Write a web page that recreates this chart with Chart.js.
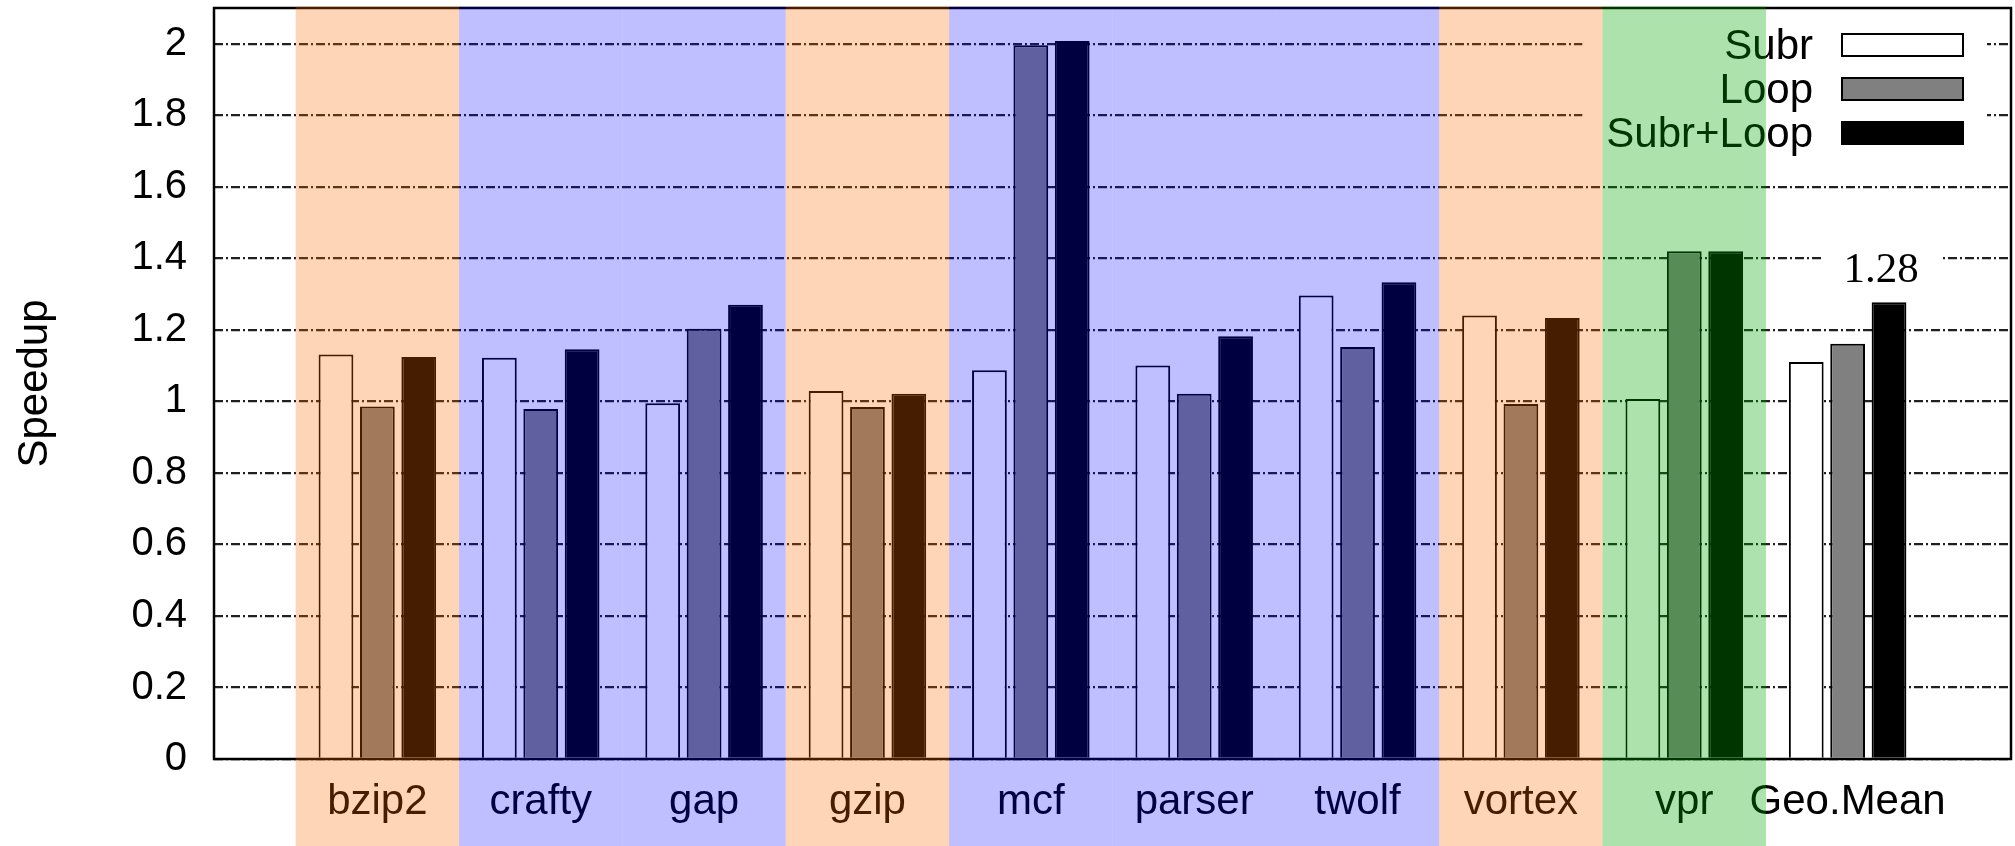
<!DOCTYPE html>
<html>
<head>
<meta charset="utf-8">
<script src="https://cdn.jsdelivr.net/npm/chart.js@4.4.1/dist/chart.umd.min.js"></script>
<style>
  html, body { margin: 0; padding: 0; background: #fff; }
  #wrap { width: 2015px; height: 846px; position: relative; }
</style>
</head>
<body>
<div id="wrap"><canvas id="speedupChart"></canvas></div>
<script>
// benchmarks and the measured speedups
const benchmarks = ['bzip2', 'crafty', 'gap', 'gzip', 'mcf', 'parser', 'twolf', 'vortex', 'vpr', 'Geo.Mean'];
const subr     = [1.131, 1.122, 0.995, 1.029, 1.087, 1.100, 1.296, 1.240, 1.007, 1.110];
const loop     = [0.986, 0.979, 1.203, 0.984, 1.996, 1.021, 1.152, 0.993, 1.420, 1.161];
const subrLoop = [1.124, 1.146, 1.270, 1.021, 2.008, 1.182, 1.333, 1.233, 1.420, 1.277];
// background band behind each benchmark
const bandGroup = ['orange', 'blue', 'blue', 'orange', 'blue', 'blue', 'blue', 'orange', 'green', 'none'];
const yTickValues = [0, 0.2, 0.4, 0.6, 0.8, 1, 1.2, 1.4, 1.6, 1.8, 2];
const yTickLabels = ['0', '0.2', '0.4', '0.6', '0.8', '1', '1.2', '1.4', '1.6', '1.8', '2'];

const sans = '"Liberation Sans", Arial, Helvetica, sans-serif';
const serif = '"Liberation Serif", "Times New Roman", serif';
const bandColors = {
  orange: 'rgba(255, 105, 0, 0.28)',
  blue: 'rgba(0, 0, 255, 0.25)',
  green: 'rgba(0, 165, 0, 0.32)'
};

// one empty slot on each side, like the original x range
const pad = (arr, fill) => [fill, ...arr, fill];

function legendLayout(chart) {
  const area = chart.chartArea;
  const boxRight = area.right - 48;
  const boxW = 121;
  return {
    boxLeft: boxRight - boxW,
    boxW: boxW,
    boxH: 22,
    textRight: boxRight - boxW - 29,
    rowY: i => area.top + 37 + i * 44
  };
}

function meanLabel(chart) {
  const last = chart.data.datasets.length - 1;
  const bar = chart.getDatasetMeta(last).data[benchmarks.length];
  return { x: bar.x - 8, y: bar.y - 20, text: subrLoop[benchmarks.length - 1].toFixed(2) };
}

const gnuplotLook = {
  id: 'gnuplotLook',
  beforeDraw(chart) {
    // gridlines are left out behind the key and the mean label
    const c = chart.ctx;
    const area = chart.chartArea;
    const lg = legendLayout(chart);
    c.save();
    c.font = '42px ' + sans;
    const textW = Math.max(...chart.data.datasets.map(d => c.measureText(d.label).width));
    const lab = meanLabel(chart);
    c.font = '43px ' + serif;
    const labW = c.measureText(lab.text).width;
    const keyLeft = lg.textRight - textW - 24;
    c.beginPath();
    c.rect(0, 0, chart.width, chart.height);
    c.rect(keyLeft, area.top, area.right - 24 - keyLeft, lg.rowY(2) + 30 - area.top);
    c.rect(lab.x - labW / 2 - 22, lab.y - 40, labW + 44, 55);
    c.clip('evenodd');
  },
  beforeDatasetsDraw(chart) {
    chart.ctx.restore();
  },
  afterDatasetsDraw(chart) {
    const c = chart.ctx;
    const area = chart.chartArea;
    c.save();
    // frame
    c.strokeStyle = '#000';
    c.lineWidth = 2.5;
    c.strokeRect(area.left, area.top, area.right - area.left, area.bottom - area.top);

    // key: text on the left, sample box on the right
    const lg = legendLayout(chart);
    c.font = '42px ' + sans;
    c.textAlign = 'right';
    c.textBaseline = 'middle';
    chart.data.datasets.forEach((ds, i) => {
      const y = lg.rowY(i);
      c.fillStyle = '#000';
      c.fillText(ds.label, lg.textRight, y + 2);
      c.fillStyle = ds.backgroundColor;
      c.fillRect(lg.boxLeft, y - lg.boxH / 2, lg.boxW, lg.boxH);
      c.lineWidth = 2;
      c.strokeStyle = '#000';
      c.strokeRect(lg.boxLeft, y - lg.boxH / 2, lg.boxW, lg.boxH);
    });

    // value above the mean bar
    const lab = meanLabel(chart);
    c.font = '43px ' + serif;
    c.textAlign = 'center';
    c.textBaseline = 'alphabetic';
    c.fillStyle = '#000';
    c.fillText(lab.text, lab.x, lab.y);
    c.restore();
  },
  afterDraw(chart) {
    // translucent suite bands laid over everything, down to the labels
    const c = chart.ctx;
    const xs = chart.scales.x;
    const half = (xs.getPixelForValue(2) - xs.getPixelForValue(1)) / 2;
    c.save();
    bandGroup.forEach((g, i) => {
      if (!bandColors[g]) return;
      const cx = xs.getPixelForValue(i + 1);
      c.fillStyle = bandColors[g];
      c.fillRect(cx - half, chart.chartArea.top - 1.5, half * 2, chart.height - chart.chartArea.top + 2);
    });
    c.restore();
  }
};

const chart = new Chart(document.getElementById('speedupChart').getContext('2d'), {
  type: 'bar',
  data: {
    labels: pad(benchmarks, ''),
    datasets: [
      { label: 'Subr', data: pad(subr, null), backgroundColor: '#ffffff' },
      { label: 'Loop', data: pad(loop, null), backgroundColor: '#808080' },
      { label: 'Subr+Loop', data: pad(subrLoop, null), backgroundColor: '#000000' }
    ]
  },
  options: {
    responsive: true,
    maintainAspectRatio: false,
    animation: false,
    layout: { padding: { top: 8, right: 4, left: 0, bottom: 0 } },
    datasets: {
      bar: {
        categoryPercentage: 0.76,
        barPercentage: 0.84,
        borderColor: '#000',
        borderWidth: 2
      }
    },
    plugins: {
      legend: { display: false },
      tooltip: { enabled: false }
    },
    scales: {
      x: {
        offset: false,
        grid: { display: false },
        border: { display: false },
        ticks: {
          autoSkip: false,
          maxRotation: 0,
          padding: 10,
          color: '#000',
          font: { family: sans, size: 42 }
        },
        afterFit: s => { s.height = 87; s.paddingLeft = 0; s.paddingRight = 0; }
      },
      y: {
        min: 0,
        max: 2.1,
        afterBuildTicks: s => { s.ticks = yTickValues.map(v => ({ value: v })); },
        grid: { color: '#202020', lineWidth: 2.3, drawTicks: false, borderDash: [9, 3, 2, 3] },
        border: { display: false, dash: [9, 3, 2, 3] },
        ticks: {
          padding: 27,
          color: '#000',
          font: { family: sans, size: 40 },
          callback: (v) => yTickLabels[yTickValues.indexOf(v)]
        },
        title: {
          display: true,
          text: 'Speedup',
          color: '#000',
          font: { family: sans, size: 42 },
          padding: { top: 10, bottom: 0 }
        },
        afterFit: s => { s.width = 214; s.paddingTop = 0; s.paddingBottom = 0; }
      }
    }
  },
  plugins: [gnuplotLook]
});
</script>
</body>
</html>
